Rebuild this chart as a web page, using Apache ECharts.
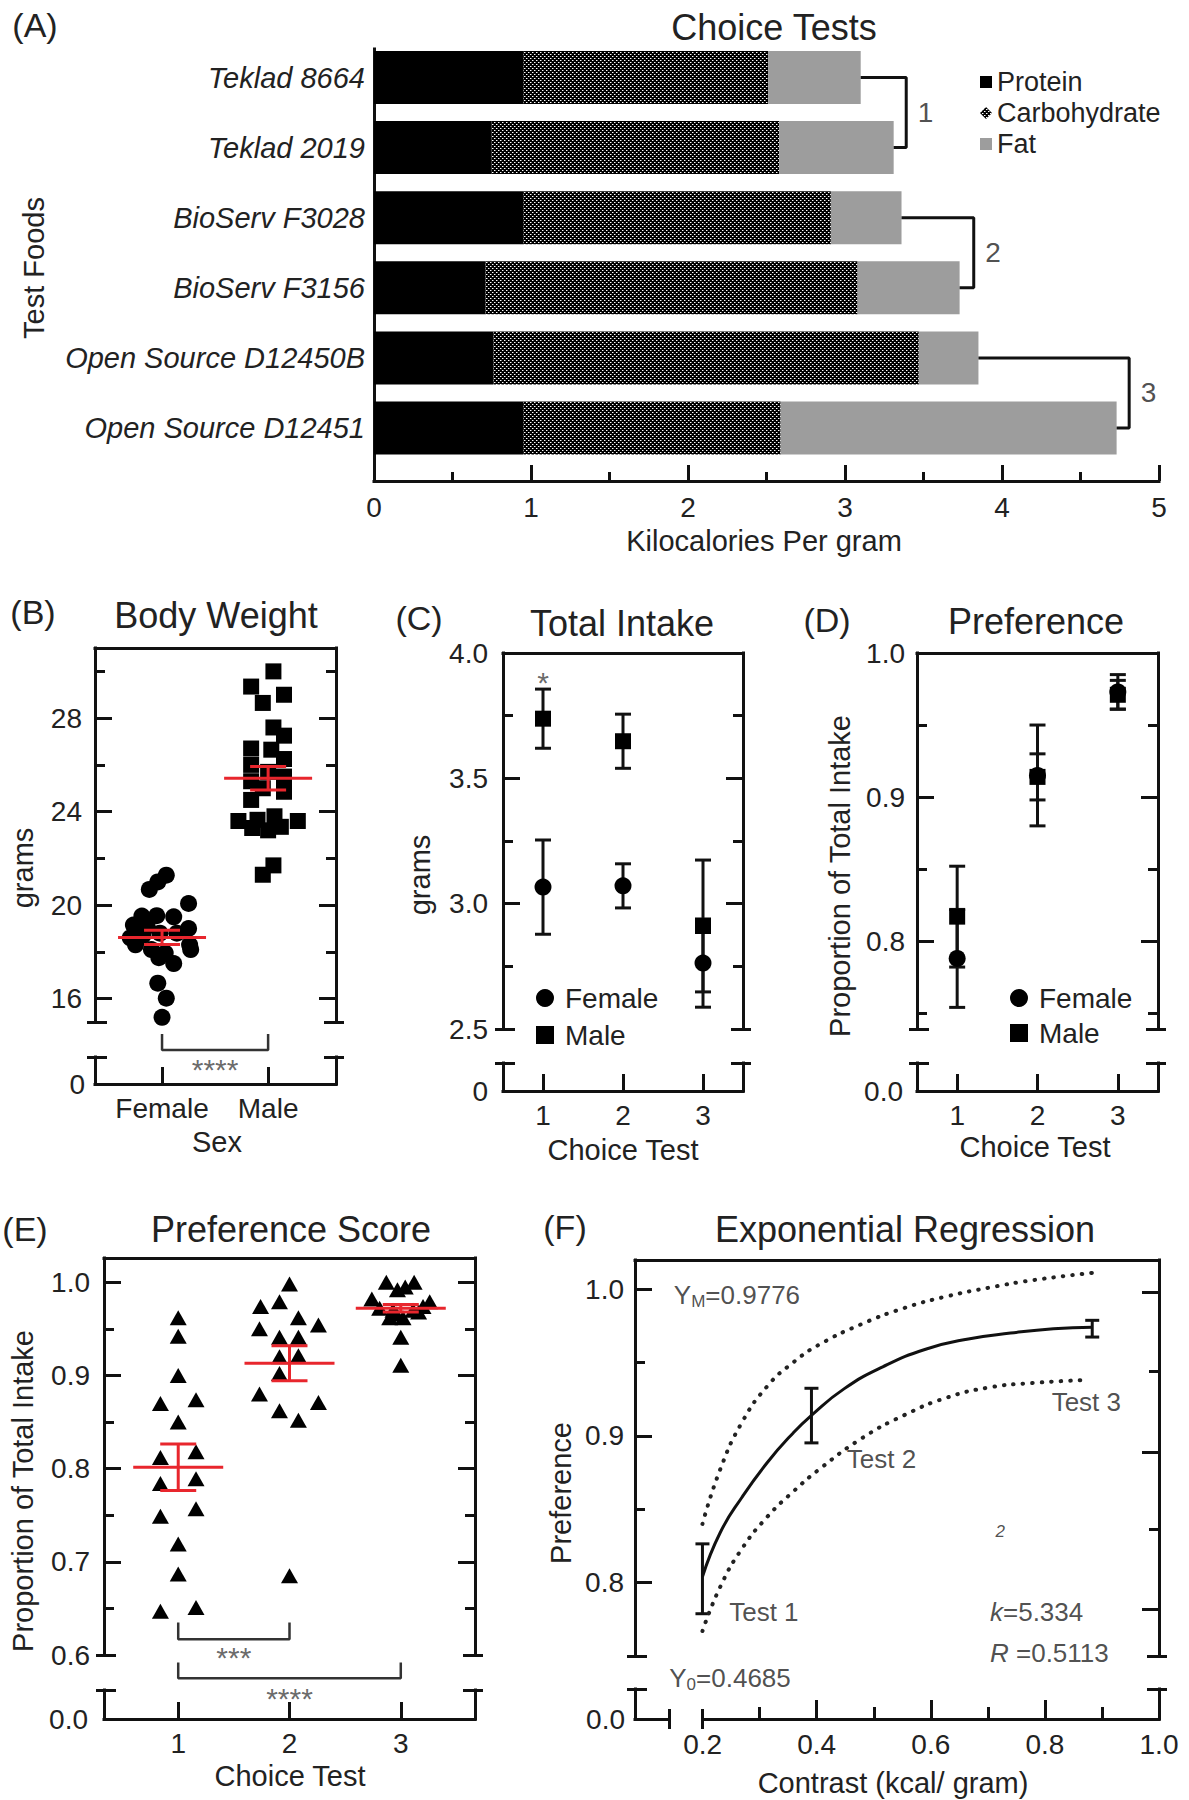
<!DOCTYPE html>
<html><head><meta charset="utf-8">
<script src="https://cdn.jsdelivr.net/npm/echarts@6/dist/echarts.min.js"></script>
<style>html,body{margin:0;padding:0;background:#fff}#c{width:1189px;height:1800px}</style>
</head><body><div id="c"></div>
<script>
// ================= DATA =================
// (A) Choice tests – kcal per gram
const foods = ['Teklad 8664','Teklad 2019','BioServ F3028','BioServ F3156','Open Source D12450B','Open Source D12451'];
const protein      = [0.95, 0.75, 0.95, 0.71, 0.76, 0.95];
const carbohydrate = [1.56, 1.83, 1.96, 2.37, 2.71, 1.64];
const fat          = [0.59, 0.73, 0.45, 0.65, 0.38, 2.14];
const bracketPairs  = [[0,1],[2,3],[4,5]];
const bracketX      = [3.39, 3.82, 4.81];
const bracketLabels = ['1','2','3'];

// (B) Body weight (grams) – [x position, value]
const sexes = ['Female','Male'];
const bwFemale = [[1.04,21.28],[0.96,20.99],[0.88,20.67],[1.25,20.07],[0.81,19.53],[0.95,19.55],[1.11,19.50],[0.73,19.15],[1.25,19.00],[0.86,19.10],[0.70,18.60],[0.82,18.70],[0.98,18.80],[1.14,18.80],[1.26,18.30],[0.75,18.30],[0.90,18.10],[1.03,17.95],[1.27,18.10],[0.97,17.75],[1.11,17.50],[0.96,16.66],[1.04,16.02],[1.00,15.20]];
const bwMale = [[2.05,30.00],[1.84,29.35],[2.15,29.00],[1.95,28.65],[2.05,27.60],[2.15,27.25],[1.84,26.70],[2.03,26.65],[2.15,26.25],[1.84,26.00],[2.00,25.70],[2.15,25.50],[1.84,25.30],[1.95,25.00],[2.15,24.85],[1.84,24.50],[1.72,23.60],[1.90,23.65],[2.06,23.80],[2.28,23.60],[2.00,23.20],[1.85,23.30],[2.12,23.35],[2.05,21.70],[1.95,21.30]];
const bwMean = [18.62, 25.43];
const bwSEM  = [0.30, 0.50];

// (C) Total intake (grams)
const tests = [1, 2, 3];
const intakeFemale    = [3.066, 3.071, 2.763];
const intakeFemaleSEM = [0.188, 0.088, 0.176];
const intakeMale      = [3.738, 3.648, 2.911];
const intakeMaleSEM   = [0.118, 0.108, 0.263];

// (D) Preference
const prefFemale    = [0.788, 0.915, 0.973];
const prefFemaleSEM = [0.034, 0.035, 0.012];
const prefMale      = [0.817, 0.914, 0.971];
const prefMaleSEM   = [0.035, 0.016, 0.010];

// (E) Preference score – [x position, value]
const scoreTest1 = [[1.00,0.962],[1.00,0.942],[1.00,0.900],[0.84,0.870],[1.16,0.874],[1.00,0.850],[0.84,0.812],[1.16,0.818],[0.84,0.784],[1.16,0.789],[0.84,0.749],[1.16,0.757],[1.00,0.719],[1.00,0.687],[0.84,0.647],[1.16,0.651]];
const scoreTest2 = [[2.00,0.998],[1.74,0.974],[1.91,0.979],[2.08,0.962],[2.26,0.954],[1.73,0.950],[1.91,0.941],[2.08,0.941],[1.91,0.920],[2.08,0.921],[1.91,0.902],[1.73,0.880],[1.91,0.862],[2.08,0.852],[2.26,0.871],[2.00,0.685]];
const scoreTest3 = [[2.87,1.000],[3.12,1.000],[3.04,0.995],[2.97,0.992],[2.74,0.982],[3.26,0.979],[2.81,0.972],[2.93,0.970],[3.11,0.970],[3.20,0.974],[2.90,0.962],[3.02,0.962],[3.16,0.968],[2.96,0.966],[3.00,0.941],[3.00,0.911]];
const scoreMean = [0.8015, 0.913, 0.972];
const scoreSEM  = [0.025, 0.0188, 0.004];

// (F) Exponential regression
const contrast = [0.2, 0.391, 0.883];
const regMean  = [0.8026, 0.9138, 0.973];
const regSEM   = [0.0238, 0.0186, 0.0057];
const fitX   = [0.200,0.231,0.269,0.314,0.359,0.391,0.448,0.516,0.591,0.666,0.740,0.815,0.883];
const fitY   = [0.804,0.834,0.858,0.882,0.902,0.914,0.932,0.947,0.959,0.966,0.970,0.973,0.974];
const upperX = [0.200,0.231,0.269,0.314,0.359,0.404,0.478,0.553,0.628,0.703,0.778,0.883];
const upperY = [0.840,0.877,0.909,0.934,0.950,0.962,0.976,0.987,0.995,1.001,1.006,1.011];
const lowerX = [0.200,0.231,0.269,0.314,0.359,0.404,0.478,0.553,0.628,0.703,0.778,0.868];
const lowerY = [0.767,0.797,0.823,0.845,0.862,0.877,0.898,0.914,0.926,0.933,0.936,0.938];

// tick label sets
const xTicksA = [0,1,2,3,4,5];
const yTicksB = [16,20,24,28], yMinorB = [18,22,26,30];
const yTicksC = [2.5,3.0,3.5,4.0], yMajorC = [3.0,3.5], yMinorC = [2.75,3.25,3.75];
const yTicksD = [0.8,0.9,1.0], yMajorD = [0.8,0.9], yMinorD = [0.75,0.85,0.95];
const yTicksE = [0.6,0.7,0.8,0.9,1.0], yMajorE = [0.7,0.8,0.9,1.0], yMinorE = [0.65,0.75,0.85,0.95];
const yTicksF = [0.8,0.9,1.0], yMinorF = [0.85,0.95];
const yRightMajorF = [0.998,0.889,0.782], yRightMinorF = [0.944,0.8365];
const xTicksF = [0.2,0.4,0.6,0.8,1.0], xMajorF = [0.4,0.6,0.8], xMinorF = [0.3,0.5,0.7,0.9];

// ================= STYLE / HELPERS =================
const FONT = "'Liberation Sans', Arial, Helvetica, sans-serif";
const TX = '#222', AX = '#111';
const LINE = {show:true, onZero:false, lineStyle:{color:AX, width:3, cap:'square'}};
const TICK = {color:AX, width:3};
const option = {animation:false, backgroundColor:'#ffffff', textStyle:{fontFamily:FONT},
  grid:[], xAxis:[], yAxis:[], series:[], legend:[], graphic:[]};

function grid(l,t,r,b){ option.grid.push({left:l, top:t, width:r-l, height:b-t, containLabel:false, outerBoundsMode:'none'}); return option.grid.length-1; }
function axis(dim,g,pos,min,max,extra){
  const a = Object.assign({type:'value', gridIndex:g, position:pos, min:min, max:max, offset:0, silent:true,
    axisLine:{show:false,onZero:false}, axisTick:{show:false}, minorTick:{show:false}, axisLabel:{show:false},
    splitLine:{show:false}, minorSplitLine:{show:false}, axisPointer:{show:false}}, extra||{});
  const arr = dim==='x' ? option.xAxis : option.yAxis; arr.push(a); return arr.length-1;
}
function tickAxis(dim,g,pos,min,max,values,len,inside){
  return axis(dim,g,pos,min,max,{axisTick:{show:true, inside:inside, length:len, customValues:values, lineStyle:TICK}});
}
function lab(values, fmt, margin, extra){
  return Object.assign({show:true, customValues:values, formatter:fmt, margin:margin, color:TX, fontSize:28, fontFamily:FONT}, extra||{});
}
const f1 = v => Number(v).toFixed(1);

function lowerSides(g, p, left, right){
  if (left){
    axis('y', g, 'left', 0, 1, {axisLine:LINE, axisLabel: lab([0], () => p.zero, p.zm)});
    tickAxis('y', g, 'left', 0, 1, [1], 12, true);
    tickAxis('y', g, 'left', 0, 1, [1], 8, false);
  }
  if (right){
    axis('y', g, 'right', 0, 1, {axisLine:LINE});
    tickAxis('y', g, 'right', 0, 1, [1], 12, true);
    tickAxis('y', g, 'right', 0, 1, [1], 8, false);
  }
}
function boxPanel(p){
  const g1 = grid(p.L, p.T, p.R, p.B);
  const dx = axis('x', g1, 'bottom', p.xmin, p.xmax);
  const dy = axis('y', g1, 'left', p.ymin, p.ymax, {axisLine:LINE,
    axisTick:{show:true, inside:true, length:17, customValues:p.major, lineStyle:TICK},
    axisLabel: lab(p.labels, p.fmt, p.ym)});
  tickAxis('y', g1, 'left', p.ymin, p.ymax, p.minor, 10, true);
  tickAxis('y', g1, 'left', p.ymin, p.ymax, [p.ymin], 12, true);
  tickAxis('y', g1, 'left', p.ymin, p.ymax, [p.ymin], 8, false);
  axis('y', g1, 'right', p.ymin, p.ymax, {axisLine:LINE,
    axisTick:{show:true, inside:true, length:17, customValues:p.rMajor||p.major, lineStyle:TICK}});
  tickAxis('y', g1, 'right', p.ymin, p.ymax, p.rMinor||p.minor, 10, true);
  tickAxis('y', g1, 'right', p.ymin, p.ymax, [p.ymin], 12, true);
  tickAxis('y', g1, 'right', p.ymin, p.ymax, [p.ymin], 8, false);
  axis('x', g1, 'top', p.xmin, p.xmax, {axisLine:LINE});
  if (!p.split){
    const g2 = grid(p.L, p.capY, p.R, p.Z);
    axis('x', g2, 'bottom', p.xmin, p.xmax, {axisLine:LINE,
      axisTick:{show:true, inside:true, length:17, customValues:p.xticks, lineStyle:TICK},
      axisLabel: lab(p.xticks, p.xfmt, 10)});
    lowerSides(g2, p, true, true);
  } else {
    const s = p.split;
    const ga = grid(p.L, p.capY, s.a, p.Z);
    axis('x', ga, 'bottom', 0, 1, {axisLine:LINE});
    tickAxis('x', ga, 'bottom', 0, 1, [1], 10, true);
    tickAxis('x', ga, 'bottom', 0, 1, [1], 10, false);
    lowerSides(ga, p, true, false);
    const gb = grid(s.b, p.capY, p.R, p.Z);
    axis('x', gb, 'bottom', s.min, s.max, {axisLine:LINE,
      axisTick:{show:true, inside:true, length:19, customValues:s.major, lineStyle:TICK},
      axisLabel: lab(s.labels, f1, 11)});
    tickAxis('x', gb, 'bottom', s.min, s.max, s.minor, 12, true);
    tickAxis('x', gb, 'bottom', s.min, s.max, [s.min], 10, true);
    tickAxis('x', gb, 'bottom', s.min, s.max, [s.min], 10, false);
    lowerSides(gb, p, false, true);
  }
  return {dx, dy};
}

function scatter(ax, name, data, symbol, size, color, extra){
  option.series.push(Object.assign({type:'scatter', name, xAxisIndex:ax.dx, yAxisIndex:ax.dy, data,
    symbol, symbolSize:size, itemStyle:{color, opacity:1}, silent:true, clip:false, z:3}, extra||{}));
}
function errorBars(ax, data, halfCap, color, halfMean, z){
  option.series.push({type:'custom', xAxisIndex:ax.dx, yAxisIndex:ax.dy, data, silent:true, clip:false, z:z||2,
    renderItem: function(params, api){
      const x = api.value(0), m = api.value(1), s = api.value(2);
      const pm = api.coord([x, m]), pt = api.coord([x, m + s]), pb = api.coord([x, m - s]);
      const st = {stroke:color, lineWidth:3, fill:null};
      const ch = [
        {type:'line', shape:{x1:pt[0], y1:pt[1], x2:pb[0], y2:pb[1]}, style:st},
        {type:'line', shape:{x1:pt[0]-halfCap, y1:pt[1], x2:pt[0]+halfCap, y2:pt[1]}, style:st},
        {type:'line', shape:{x1:pb[0]-halfCap, y1:pb[1], x2:pb[0]+halfCap, y2:pb[1]}, style:st}];
      if (halfMean) ch.push({type:'line', shape:{x1:pm[0]-halfMean, y1:pm[1], x2:pm[0]+halfMean, y2:pm[1]}, style:st});
      return {type:'group', children:ch};
    }});
}
function polyline(ax, data, lineStyle, smooth){
  option.series.push({type:'line', xAxisIndex:ax.dx, yAxisIndex:ax.dy, data, smooth:!!smooth, showSymbol:false,
    symbol:'none', clip:false, silent:true, lineStyle, z:3});
}
function textAt(ax, pos, text, o){
  o = o || {};
  option.series.push({type:'scatter', xAxisIndex:ax.dx, yAxisIndex:ax.dy, data:[pos], symbol:'circle', symbolSize:1,
    itemStyle:{color:'rgba(0,0,0,0)'}, silent:true, clip:false, z:5,
    label:{show:true, position:o.position||'inside', distance:o.distance||0, offset:o.offset||[0,0],
      formatter:() => text, color:o.color||TX, fontSize:o.fontSize||26, fontFamily:FONT,
      fontStyle:o.fontStyle||'normal', rich:o.rich||{}}});
}
const zip3 = (xs, ms, ss) => xs.map((x,i) => [x, ms[i], ss[i]]);

// ================= PANEL A =================
const gA = grid(374, 42.45, 1159, 463.05);
const axA = {dx: axis('x', gA, 'bottom', 0, 5)};
option.yAxis.push({type:'category', gridIndex:gA, data:foods, inverse:true, silent:true,
  axisLine:{show:false}, axisTick:{show:false}, splitLine:{show:false},
  axisLabel:{show:true, interval:0, margin:9, fontStyle:'italic', fontSize:29, color:TX, fontFamily:FONT}});
axA.dy = option.yAxis.length - 1;
const gA2 = grid(374, 49, 1159, 481);
const axA2 = {
  dx: axis('x', gA2, 'bottom', 0, 5, {interval:1, axisLine:LINE,
    axisTick:{show:true, inside:true, length:16, lineStyle:TICK},
    minorTick:{show:true, splitNumber:2, length:9, lineStyle:TICK},
    axisLabel: lab(xTicksA, v => String(v), 12)}),
  dy: axis('y', gA2, 'left', -0.4066, 5.756, {inverse:true, axisLine:LINE})
};
function makePattern(){
  const c = document.createElement('canvas'); c.width = 4; c.height = 4;
  const x = c.getContext('2d'); x.fillStyle = '#000'; x.fillRect(0,0,4,4);
  x.fillStyle = '#fff'; x.fillRect(0,0,1,1); x.fillRect(2,2,1,1);
  x.fillStyle = '#777'; x.fillRect(1,0,1,1); x.fillRect(3,2,1,1);
  return c;
}
const carbFill = {image: makePattern(), repeat:'repeat', imageWidth:4, imageHeight:4};
[['Protein', protein, '#000'], ['Carbohydrate', carbohydrate, carbFill], ['Fat', fat, '#9d9d9d']].forEach(([n, d, c]) => {
  option.series.push({type:'bar', name:n, stack:'kcal', xAxisIndex:axA.dx, yAxisIndex:axA.dy, data:d,
    barWidth:53, itemStyle:{color:c}, silent:true, z:2});
});
const totals = foods.map((_, i) => protein[i] + carbohydrate[i] + fat[i]);
bracketPairs.forEach(([a, b], k) => {
  polyline(axA2, [[totals[a], a], [bracketX[k], a], [bracketX[k], b], [totals[b], b]], {color:AX, width:3});
  textAt(axA2, [bracketX[k], (a + b) / 2], bracketLabels[k], {position:'right', distance:11, fontSize:28});
});
option.legend.push({left:980, top:68.5, orient:'vertical', itemWidth:12, itemHeight:12, itemGap:4, padding:0,
  selectedMode:false, data:[{name:'Protein', icon:'rect'}, {name:'Carbohydrate', icon:'diamond'}, {name:'Fat', icon:'rect'}],
  textStyle:{fontSize:27, lineHeight:27, color:TX, fontFamily:FONT}});

// ================= PANEL B =================
const axB = boxPanel({L:95, R:336, T:648, B:1022, ymin:15, ymax:31, major:yTicksB, minor:yMinorB, labels:yTicksB,
  fmt: v => String(v), ym:13, xmin:0.368, xmax:2.64, capY:1057, Z:1084, xticks:[1,2], xfmt: v => sexes[v-1], zero:'0', zm:10});
scatter(axB, 'BW Female', bwFemale, 'circle', 17, '#000');
scatter(axB, 'BW Male', bwMale, 'rect', 16, '#000');
errorBars(axB, zip3([1,2], bwMean, bwSEM), 18, '#e8262d', 44, 6);
polyline(axB, [[1,14.49],[1,13.80],[2,13.80],[2,14.49]], {color:'#333', width:2.5});
textAt(axB, [1.5, 13.22], '****', {fontSize:30, color:'#444', offset:[0,6]});

// ================= PANEL C =================
const axC = boxPanel({L:503, R:743, T:653, B:1029, ymin:2.5, ymax:4.0, major:yMajorC, minor:yMinorC, labels:yTicksC,
  fmt:f1, ym:15, xmin:0.5, xmax:3.5, capY:1063, Z:1091, xticks:tests, xfmt: v => String(v), zero:'0', zm:15});
errorBars(axC, zip3(tests, intakeFemale, intakeFemaleSEM), 8, AX);
errorBars(axC, zip3(tests, intakeMale, intakeMaleSEM), 8, AX);
scatter(axC, 'Female', tests.map((t,i) => [t, intakeFemale[i]]), 'circle', 17, '#000');
scatter(axC, 'Male', tests.map((t,i) => [t, intakeMale[i]]), 'rect', 16, '#000');
textAt(axC, [1, 3.905], '*', {fontSize:30, color:'#444', offset:[0,6]});
option.legend.push({left:536, top:984, orient:'vertical', itemWidth:18, itemHeight:18, itemGap:9, padding:0,
  selectedMode:false, data:[{name:'Female', icon:'circle'}, {name:'Male', icon:'rect'}],
  textStyle:{fontSize:28, lineHeight:28, color:TX, fontFamily:FONT, padding:[0,0,0,6]}});

// ================= PANEL D =================
const axD = boxPanel({L:917, R:1158, T:653, B:1029, ymin:0.739, ymax:1.0, major:yMajorD, minor:yMinorD, labels:yTicksD,
  fmt:f1, ym:12, xmin:0.5, xmax:3.5, capY:1063, Z:1091, xticks:tests, xfmt: v => String(v), zero:'0.0', zm:14});
errorBars(axD, zip3(tests, prefFemale, prefFemaleSEM), 8, AX);
errorBars(axD, zip3(tests, prefMale, prefMaleSEM), 8, AX);
scatter(axD, 'Female', tests.map((t,i) => [t, prefFemale[i]]), 'circle', 17, '#000');
scatter(axD, 'Male', tests.map((t,i) => [t, prefMale[i]]), 'rect', 16, '#000');
option.legend.push({left:1010, top:984, orient:'vertical', itemWidth:18, itemHeight:18, itemGap:7, padding:0,
  selectedMode:false, data:[{name:'Female', icon:'circle'}, {name:'Male', icon:'rect'}],
  textStyle:{fontSize:28, lineHeight:28, color:TX, fontFamily:FONT, padding:[0,0,0,6]}});

// ================= PANEL E =================
const axE = boxPanel({L:104, R:475, T:1258, B:1655, ymin:0.6, ymax:1.026, major:yMajorE, minor:yMinorE, labels:yTicksE,
  fmt:f1, ym:14, xmin:0.333, xmax:3.667, capY:1690, Z:1719, xticks:tests, xfmt: v => String(v), zero:'0.0', zm:16});
[scoreTest1, scoreTest2, scoreTest3].forEach((d, i) => scatter(axE, 'Test ' + (i+1), d, 'triangle', [17,15], '#000'));
errorBars(axE, zip3(tests, scoreMean, scoreSEM), 18, '#e8262d', 45, 6);
polyline(axE, [[1,0.635],[1,0.617],[2,0.617],[2,0.635]], {color:'#333', width:2.5});
polyline(axE, [[1,0.592],[1,0.575],[3,0.575],[3,0.592]], {color:'#333', width:2.5});
textAt(axE, [1.5, 0.604], '***', {fontSize:30, color:'#444', offset:[0,6]});
textAt(axE, [2.0, 0.560], '****', {fontSize:30, color:'#444', offset:[0,6]});

// ================= PANEL F =================
const axF = boxPanel({L:635, R:1159, T:1260, B:1656, ymin:0.75, ymax:1.0198, major:yTicksF, minor:yMinorF, labels:yTicksF,
  rMajor:yRightMajorF, rMinor:yRightMinorF, fmt:f1, ym:11, xmin:0.0818, xmax:1.0, capY:1689, Z:1719, zero:'0.0', zm:10,
  split:{a:669.3, b:702.6, min:0.2, max:1.0, major:xMajorF, minor:xMinorF, labels:xTicksF}});
polyline(axF, upperX.map((x,i) => [x, upperY[i]]), {color:'#222', width:4, type:[0.5,9], cap:'round'}, true);
polyline(axF, lowerX.map((x,i) => [x, lowerY[i]]), {color:'#222', width:4, type:[0.5,9], cap:'round'}, true);
polyline(axF, fitX.map((x,i) => [x, fitY[i]]), {color:'#111', width:3}, true);
errorBars(axF, zip3(contrast, regMean, regSEM), 7, AX);
const richF = {n:{fontSize:26, lineHeight:30, verticalAlign:'middle', fontFamily:FONT, color:TX},
  s:{fontSize:17, lineHeight:17, verticalAlign:'bottom', fontFamily:FONT, color:TX},
  i:{fontSize:26, lineHeight:30, fontStyle:'italic', fontFamily:FONT, color:TX}};
textAt(axF, [0.149, 0.996], '{n|Y}{s|M}{n|=0.9776}', {position:'right', rich:richF});
textAt(axF, [0.141, 0.735], '{n|Y}{s|0}{n|=0.4685}', {position:'right', rich:richF});
textAt(axF, [0.246, 0.780], 'Test 1', {position:'right'});
textAt(axF, [0.452, 0.884], 'Test 2', {position:'right'});
textAt(axF, [0.811, 0.923], 'Test 3', {position:'right'});
textAt(axF, [0.722, 0.835], '2', {fontSize:17, fontStyle:'italic'});
textAt(axF, [0.703, 0.780], '{i|k}{n|=5.334}', {position:'right', rich:richF});
textAt(axF, [0.703, 0.752], '{i|R}{n| =0.5113}', {position:'right', rich:richF});

// ================= FREE TEXT: titles, panel letters, axis names =================
function txt(t, x, y, size, rot){
  option.graphic.push({type:'text', x:x, y:y, rotation:rot||0, silent:true,
    style:{text:t, fill:TX, fontSize:size, fontFamily:FONT, align:'center', verticalAlign:'middle',
      textAlign:'center', textVerticalAlign:'middle'}});
}
[['(A)',35,25],['(B)',33,612],['(C)',419,618],['(D)',827,620],['(E)',25,1229],['(F)',565,1227]].forEach(a => txt(a[0], a[1], a[2], 34));
[['Choice Tests',774,27],['Body Weight',216,615],['Total Intake',622,623],['Preference',1036,621],
 ['Preference Score',291,1229],['Exponential Regression',905,1229]].forEach(a => txt(a[0], a[1], a[2], 36));
[['Kilocalories Per gram',764,541],['Sex',217,1142],['Choice Test',623,1150],['Choice Test',1035,1147],
 ['Choice Test',290,1776],['Contrast (kcal/ gram)',893,1783]].forEach(a => txt(a[0], a[1], a[2], 29));
[['Test Foods',34,268],['grams',23,868],['grams',420,875],['Proportion of Total Intake',840,876],
 ['Proportion of Total Intake',23,1491],['Preference',561,1493]].forEach(a => txt(a[0], a[1], a[2], 29, Math.PI/2));

const chart = echarts.init(document.getElementById('c'), null, {renderer:'svg', width:1189, height:1800});
chart.setOption(option);
</script>
</body></html>
